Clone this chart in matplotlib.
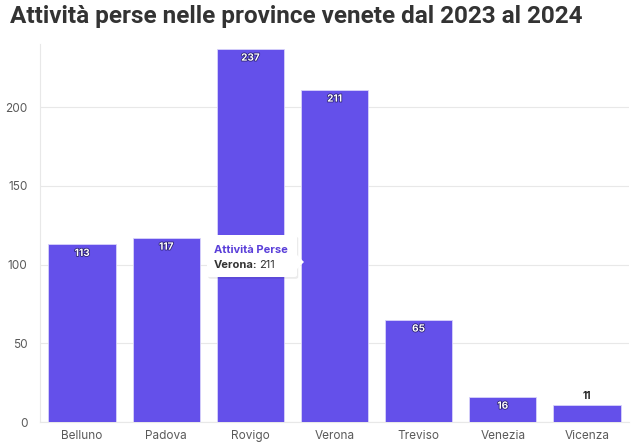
import matplotlib
matplotlib.use("Agg")
import matplotlib.pyplot as plt
import matplotlib.patheffects as pe
from matplotlib.patches import FancyBboxPatch, Polygon

# Data
province = ["Belluno", "Padova", "Rovigo", "Verona", "Treviso", "Venezia", "Vicenza"]
attivita_perse = [113, 117, 237, 211, 65, 16, 11]
yticks = [0, 50, 100, 150, 200]

bar_color = "#6450EA"
grid_color = "#E8E8E8"
text_color = "#5A5A5A"

plt.rcParams["font.family"] = ["Inter", "DejaVu Sans"]

fig = plt.figure(figsize=(6.31, 4.48), dpi=100)
ax = fig.add_axes([40 / 631, 1 - 422 / 448, 589 / 631, 378 / 448])

x = list(range(len(province)))
ax.bar(x, attivita_perse, width=0.8, color=bar_color, edgecolor="#D8D3FA",
       linewidth=0.6, zorder=3)

for xi, v in zip(x, attivita_perse):
    if v > 14:
        ax.text(xi, v - 2.5, str(v), ha="center", va="top", fontsize=7.2,
                fontweight="bold", color="white", zorder=5,
                path_effects=[pe.withStroke(linewidth=1.1, foreground="#2A1F70")])
    else:
        ax.text(xi, v + 2.5, str(v), ha="center", va="bottom", fontsize=7.2,
                fontweight="bold", color="#222222", zorder=5)

ax.set_xlim(-0.5, len(province) - 0.5)
ax.set_ylim(0, 240)
ax.set_yticks(yticks)
ax.set_xticks(x)
ax.set_xticklabels(province)
ax.tick_params(axis="both", length=0, labelsize=8.5, labelcolor=text_color, pad=6)
ax.tick_params(axis="y", pad=9)
ax.yaxis.grid(True, color=grid_color, linewidth=0.8, zorder=0)
for s in ["top", "right"]:
    ax.spines[s].set_visible(False)
ax.spines["left"].set_color(grid_color)
ax.spines["bottom"].set_color(grid_color)

# tooltip
tx0, ty0, tw, th = 207 / 631, 1 - 277 / 448, 90 / 631, 42 / 448
shadow = FancyBboxPatch((tx0 + 0.002, ty0 - 0.004), tw, th, boxstyle="round,pad=0,rounding_size=0.004",
                        transform=fig.transFigure, facecolor="#000000", alpha=0.08,
                        edgecolor="none", zorder=9)
box = FancyBboxPatch((tx0, ty0), tw, th, boxstyle="round,pad=0,rounding_size=0.004",
                     transform=fig.transFigure, facecolor="white", edgecolor="none", zorder=10)
arrow = Polygon([(tx0 + tw, 1 - 255 / 448), (tx0 + tw + 7 / 631, 1 - 262 / 448),
                 (tx0 + tw, 1 - 269 / 448)], closed=True, transform=fig.transFigure,
                facecolor="white", edgecolor="none", zorder=10)
fig.patches.extend([shadow, box, arrow])
fig.text(214 / 631, 1 - 250 / 448, "Attività Perse", fontsize=8, fontweight="bold",
         color="#5A3FD9", va="center", zorder=11)
fig.text(214 / 631, 1 - 265 / 448, "Verona:", fontsize=8, fontweight="bold",
         color="#333333", va="center", zorder=11)
fig.text(259 / 631, 1 - 265 / 448, "211", fontsize=8, color="#333333", va="center", zorder=11)

fig.text(10 / 631, 1 - 16 / 448, "Attività perse nelle province venete dal 2023 al 2024",
         fontsize=17.5, fontweight="bold", color="#333333", va="center",
         family=["Roboto", "DejaVu Sans"])

fig.savefig("out.png", dpi=100)
